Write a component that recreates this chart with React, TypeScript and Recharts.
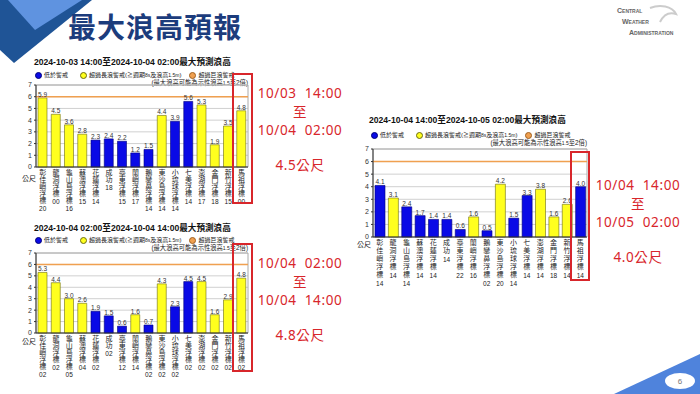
import React from "react";
import {
  BarChart,
  Bar,
  Cell,
  XAxis,
  YAxis,
  CartesianGrid,
  ReferenceLine,
  ReferenceArea,
  LabelList,
} from "recharts";

const stations = [
  "彰佳嶼浮標", "龍洞浮標", "龜山島浮標", "蘇澳浮標", "花蓮浮標", "成功",
  "臺東浮標", "蘭嶼浮標", "鵝鑾鼻浮標", "東沙島浮標", "小琉球浮標", "七美浮標",
  "澎湖浮標", "金門浮標", "新竹浮標", "馬祖浮標",
];

const heights1 = [5.9, 4.5, 3.6, 2.8, 2.3, 2.4, 2.2, 1.2, 1.5, 4.4, 3.9, 5.6, 5.3, 1.9, 3.5, 4.8];
const alert1 = ["Y", "Y", "Y", "Y", "B", "B", "B", "B", "B", "Y", "B", "B", "Y", "Y", "Y", "Y"];
const hours1 = ["20", "00", "16", "15", "14", "18", "15", "17", "14", "14", "14", "14", "17", "18", "15", "00"];

const heights2 = [5.3, 4.4, 3.0, 2.6, 1.9, 1.5, 0.6, 1.6, 0.7, 4.3, 2.3, 4.5, 4.5, 1.6, 2.9, 4.8];
const alert2 = ["Y", "Y", "Y", "Y", "B", "B", "B", "Y", "B", "Y", "B", "B", "Y", "Y", "Y", "Y"];
const hours2 = ["02", "02", "05", "04", "02", "02", "12", "14", "02", "02", "02", "02", "02", "02", "02", "02"];

const heights3 = [4.1, 3.1, 2.4, 1.7, 1.4, 1.4, 0.6, 1.6, 0.5, 4.2, 1.5, 3.3, 3.8, 1.6, 2.6, 4.0];
const alert3 = ["B", "Y", "B", "B", "B", "B", "B", "Y", "B", "Y", "B", "B", "Y", "Y", "Y", "B"];
const hours3 = ["14", "14", "14", "14", "14", "14", "22", "16", "02", "20", "14", "14", "14", "18", "14", "14"];

const yTicks = [0, 1, 2, 3, 4, 5, 6, 7];
const hugeWave = 6;

const FONT = "'Liberation Sans', 'Noto Sans CJK TC', sans-serif";
const BLUE = "#0a0ae6";
const YELLOW = "#ffff1e";
const RED = "#d8262b";

type ChartProps = {
  left: number;
  top: number;
  width: number;
  height: number;
  xAxisH: number;
  yAxisW: number;
  charStep: number;
  barSize: number;
  values: number[];
  alerts: string[];
  hours: string[];
};

function WaveChart(p: ChartProps) {
  const data = stations.map((name, i) => ({ name, value: p.values[i], hour: p.hours[i] }));

  const renderTick = (props: any) => {
    const { x, y, payload, index } = props;
    const chars = String(payload.value).split("");
    return (
      <g transform={`translate(${x},${y})`}>
        {chars.map((c, k) => (
          <text key={k} x={0} y={k * p.charStep} textAnchor="middle" fontSize={7} fill="#222" fontFamily={FONT}>
            {c}
          </text>
        ))}
        <text x={0} y={1 + chars.length * p.charStep} textAnchor="middle" fontSize={6.5} fill="#222" fontFamily={FONT}>
          {p.hours[index]}
        </text>
      </g>
    );
  };

  return (
    <div style={{ position: "absolute", left: p.left, top: p.top }}>
      <BarChart
        width={p.width}
        height={p.height}
        data={data}
        margin={{ top: 5, right: 2, left: 0, bottom: 0 }}
        style={{ overflow: "visible" }}
      >
        <CartesianGrid vertical={false} stroke="#d0d0d0" />
        <ReferenceArea y1={0} y2={7} fill="none" stroke="#aaa" strokeWidth={1} ifOverflow="visible" />
        <XAxis
          dataKey="name"
          interval={0}
          height={p.xAxisH}
          tick={renderTick}
          tickLine={false}
          axisLine={{ stroke: "#333" }}
        />
        <YAxis
          domain={[0, 7]}
          ticks={yTicks}
          interval={0}
          width={p.yAxisW}
          tick={{ fontSize: 7, fill: "#333", fontFamily: FONT }}
          tickSize={2}
          tickLine={{ stroke: "#333" }}
          axisLine={{ stroke: "#333" }}
        />
        <ReferenceLine y={hugeWave} stroke="#f0a050" strokeWidth={1.5} />
        <Bar dataKey="value" isAnimationActive={false} barSize={p.barSize} strokeWidth={0.6}>
          {data.map((d, i) => (
            <Cell key={d.name} fill={p.alerts[i] === "B" ? BLUE : YELLOW} stroke={p.alerts[i] === "B" ? "#00007a" : "#6b6b10"} />
          ))}
          <LabelList
            dataKey="value"
            position="top"
            offset={1}
            formatter={(v: any) => Number(v).toFixed(1)}
            style={{ fontSize: 6.5, fill: "#333", fontFamily: FONT }}
          />
        </Bar>
      </BarChart>
    </div>
  );
}

function Legend({ left, top, right }: { left: number; top: number; right: number }) {
  const dot = (c: string, s: string) => (
    <span
      style={{
        display: "inline-block",
        width: 5,
        height: 5,
        borderRadius: "50%",
        background: c,
        border: `1px solid ${s}`,
        marginRight: 2,
        verticalAlign: "middle",
      }}
    />
  );
  const base: React.CSSProperties = {
    position: "absolute",
    top,
    fontSize: 6,
    fontFamily: FONT,
    color: "#222",
    whiteSpace: "nowrap",
    lineHeight: "8px",
  };
  return (
    <>
      <div style={{ ...base, left }}>
        {dot(BLUE, "#00007a")}低於警戒
        <span style={{ marginLeft: 12 }}>{dot(YELLOW, "#6b6b10")}超過長浪警戒(≧週期<span style={{ fontSize: 5 }}>8s</span>及浪高<span style={{ fontSize: 5 }}>1.5m</span>)</span>
        <span style={{ marginLeft: 8 }}>{dot("#f0a050", "#a06020")}超過巨浪警戒</span>
      </div>
      <div style={{ ...base, top: top + 8, left: right - 110, width: 110, textAlign: "right", fontSize: 6.3 }}>
        (最大浪高可能為示性浪高<span style={{ fontSize: 5 }}>1.5</span>至2倍)
      </div>
    </>
  );
}

function Title({ left, top, text }: { left: number; top: number; text: string }) {
  return (
    <div
      style={{
        position: "absolute",
        left,
        top,
        fontSize: 8.6,
        fontWeight: "bold",
        fontFamily: FONT,
        color: "#111",
        whiteSpace: "nowrap",
        lineHeight: "10px",
      }}
    >
      {text}
    </div>
  );
}

function Note({ left, top, from, to, amount }: { left: number; top: number; from: string; to: string; amount: string }) {
  const line: React.CSSProperties = { height: 18.5, lineHeight: "18.5px" };
  return (
    <div
      style={{
        position: "absolute",
        left,
        top,
        width: 92,
        textAlign: "center",
        color: RED,
        fontSize: 13.5,
        letterSpacing: 0.6,
        fontFamily: "'Noto Sans', 'Noto Sans CJK TC', sans-serif",
        whiteSpace: "pre",
      }}
    >
      <div style={line}>{from}</div>
      <div style={line}>至</div>
      <div style={line}>{to}</div>
      <div style={{ ...line, marginTop: 16 }}>{amount}</div>
    </div>
  );
}

function Unit({ left, top }: { left: number; top: number }) {
  return (
    <div style={{ position: "absolute", left, top, fontSize: 7, fontFamily: FONT, color: "#222", lineHeight: "8px" }}>
      公尺
    </div>
  );
}

function Box({ x1, y1, x2, y2 }: { x1: number; y1: number; x2: number; y2: number }) {
  return (
    <div
      style={{
        position: "absolute",
        left: x1,
        top: y1,
        width: x2 - x1,
        height: y2 - y1,
        border: `2.5px solid ${RED}`,
        boxSizing: "border-box",
      }}
    />
  );
}

export default function App() {
  return (
    <div
      style={{
        position: "absolute",
        left: 0,
        top: 0,
        width: 700,
        height: 394,
        background: "#fff",
        overflow: "hidden",
      }}
    >
      <svg width={700} height={394} style={{ position: "absolute", left: 0, top: 0 }}>
        <polygon points="0,0 92,0 14,63 0,50" fill="#1f5496" />
        <polygon points="8,0 82,0 35,30" fill="#5f93e0" />
        <polygon points="614,394 700,354 700,394" fill="#4f83dc" />
        <ellipse cx={680} cy={381} rx={15} ry={8} fill="#fff" />
        <text x={680} y={384} fontSize={8} fill="#777" textAnchor="middle" fontFamily={FONT}>
          6
        </text>
        <g fontFamily={FONT} fill="#666" fontWeight="bold">
          <text x={617} y={13} fontSize={7}>C<tspan fontSize={5}>ENTRAL</tspan></text>
          <text x={622} y={24} fontSize={7}>W<tspan fontSize={5}>EATHER</tspan></text>
          <text x={629} y={35} fontSize={7}>A<tspan fontSize={5}>DMINISTRATION</tspan></text>
        </g>
        <path d="M650,8 C660,4 672,6 676,14 C670,12 664,14 660,22" stroke="#ccc" strokeWidth={2} fill="none" />
      </svg>

      <div
        style={{
          position: "absolute",
          left: 68,
          top: 9,
          fontSize: 28,
          fontWeight: "bold",
          color: "#1c3c7c",
          fontFamily: "'Noto Sans CJK TC', sans-serif",
          lineHeight: "34px",
          letterSpacing: 1,
        }}
      >
        最大浪高預報
      </div>

      <Title left={34} top={57} text="2024-10-03 14:00至2024-10-04 02:00最大預測浪高" />
      <Legend left={35} top={71} right={248} />
      <WaveChart left={20} top={80} width={230} height={135} xAxisH={48} yAxisW={16} charStep={7} barSize={9} values={heights1} alerts={alert1} hours={hours1} />
      <Unit left={22} top={175} />
      <Box x1={232} y1={73} x2={253} y2={204} />
      <Note left={254} top={84} from="10/03  14:00" to="10/04  02:00" amount="4.5公尺" />

      <Title left={34} top={223} text="2024-10-04 02:00至2024-10-04 14:00最大預測浪高" />
      <Legend left={35} top={236} right={248} />
      <WaveChart left={20} top={248} width={230} height={133} xAxisH={48} yAxisW={16} charStep={7} barSize={9} values={heights2} alerts={alert2} hours={hours2} />
      <Unit left={22} top={338} />
      <Box x1={232} y1={243} x2={253} y2={372} />
      <Note left={254} top={254} from="10/04  02:00" to="10/04  14:00" amount="4.8公尺" />

      <Title left={369} top={115} text="2024-10-04 14:00至2024-10-05 02:00最大預測浪高" />
      <Legend left={371} top={131} right={587} />
      <WaveChart left={355} top={144} width={234} height={145} xAxisH={52} yAxisW={18} charStep={8} barSize={10} values={heights3} alerts={alert3} hours={hours3} />
      <Unit left={357} top={241} />
      <Box x1={570} y1={151} x2={590} y2={281} />
      <Note left={592} top={176} from="10/04  14:00" to="10/05  02:00" amount="4.0公尺" />
    </div>
  );
}
